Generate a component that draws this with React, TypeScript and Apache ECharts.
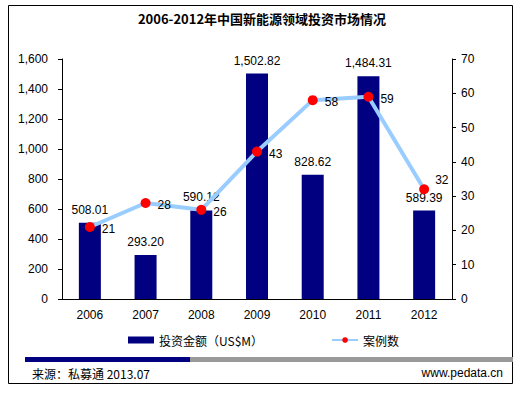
import React, { useEffect, useRef } from "react";
import * as echarts from "echarts";

const categories = ["2006", "2007", "2008", "2009", "2010", "2011", "2012"];
const investment = [508.01, 293.2, 590.12, 1502.82, 828.62, 1484.31, 589.39];
const cases = [21, 28, 26, 43, 58, 59, 32];
const leftTicks = { min: 0, max: 1600, interval: 200 };
const rightTicks = { min: 0, max: 70, interval: 10 };

const FONT = "Liberation Sans, Arial, sans-serif";
const CJK = "Noto Sans CJK SC, sans-serif";

function fmt(v: number, d: number) {
  return v.toLocaleString("en-US", { minimumFractionDigits: d, maximumFractionDigits: d });
}

export default function App() {
  const ref = useRef<HTMLDivElement>(null);
  useEffect(() => {
    if (!ref.current) return;
    const chart = echarts.init(ref.current, null, { renderer: "svg" });
    chart.setOption({
      animation: false,
      backgroundColor: "#fff",
      textStyle: { fontFamily: FONT },
      grid: { left: 62, right: 72, top: 59, bottom: 95 },
      legend: {
        left: 123,
        top: 329,
        itemGap: 68,
        itemWidth: 26,
        itemHeight: 7,
        textStyle: { fontFamily: CJK, fontSize: 12, color: "#000" },
        data: [
          { name: "投资金额（US$M）", icon: "rect" },
          { name: "案例数" },
        ],
      },
      xAxis: {
        type: "category",
        data: categories,
        axisLine: { lineStyle: { color: "#000", width: 1 } },
        axisTick: { inside: true, length: 4, lineStyle: { color: "#000" } },
        axisLabel: { color: "#000", fontSize: 12, margin: 10, fontFamily: FONT },
      },
      yAxis: [
        {
          type: "value",
          ...leftTicks,
          splitLine: { show: false },
          axisLine: { show: true, lineStyle: { color: "#000" } },
          axisTick: { show: true, length: 4, lineStyle: { color: "#000" } },
          axisLabel: {
            color: "#000",
            fontSize: 12,
            margin: 14,
            fontFamily: FONT,
            formatter: (v: number) => fmt(v, 0),
          },
        },
        {
          type: "value",
          ...rightTicks,
          splitLine: { show: false },
          axisLine: { show: true, lineStyle: { color: "#000" } },
          axisTick: { show: true, length: 4, lineStyle: { color: "#000" } },
          axisLabel: { color: "#000", fontSize: 12, margin: 9, fontFamily: FONT },
        },
      ],
      series: [
        {
          name: "投资金额（US$M）",
          type: "bar",
          data: investment,
          barWidth: 22,
          itemStyle: { color: "#000080" },
          label: {
            show: true,
            position: "top",
            distance: 7,
            color: "#000",
            fontSize: 12,
            fontFamily: FONT,
            formatter: (p: any) => fmt(p.value, 2),
          },
          z: 1,
        },
        {
          name: "案例数",
          type: "line",
          yAxisIndex: 1,
          data: cases.map((v, i) =>
            i === cases.length - 1
              ? { value: v, label: { position: "right", offset: [-1, -9] } }
              : v
          ),
          symbol: "circle",
          symbolSize: 10,
          lineStyle: { color: "#99CCFF", width: 4 },
          itemStyle: { color: "#FF0000" },
          label: {
            show: true,
            position: "right",
            distance: 7,
            offset: [0, 2],
            color: "#000",
            fontSize: 12,
            fontFamily: FONT,
          },
          z: 3,
        },
      ],
      graphic: [
        {
          type: "rect",
          shape: { x: 8.5, y: 5.5, width: 504, height: 378 },
          style: { fill: "none", stroke: "#000", lineWidth: 1 },
          silent: true,
        },
        {
          type: "text",
          x: 262,
          y: 18,
          style: {
            text: "2006-2012年中国新能源领域投资市场情况",
            fontSize: 13,
            fontWeight: "bold",
            fontFamily: CJK,
            fill: "#000",
            align: "center",
            verticalAlign: "middle",
          },
        },
        {
          type: "rect",
          shape: { x: 25, y: 357, width: 165, height: 5 },
          style: { fill: "#000080" },
        },
        {
          type: "rect",
          shape: { x: 190, y: 357, width: 323, height: 5 },
          style: { fill: "#999999" },
        },
        {
          type: "text",
          x: 32,
          y: 373,
          style: {
            text: "来源：私募通 2013.07",
            fontSize: 12,
            fontFamily: CJK,
            fill: "#000",
            verticalAlign: "middle",
          },
        },
        {
          type: "text",
          x: 503,
          y: 373,
          style: {
            text: "www.pedata.cn",
            fontSize: 12,
            fontFamily: FONT,
            fill: "#000",
            align: "right",
            verticalAlign: "middle",
          },
        },
      ],
    });
    return () => chart.dispose();
  }, []);
  return (
    <div
      ref={ref}
      style={{ position: "fixed", left: 0, top: 0, width: 524, height: 394 }}
    />
  );
}
